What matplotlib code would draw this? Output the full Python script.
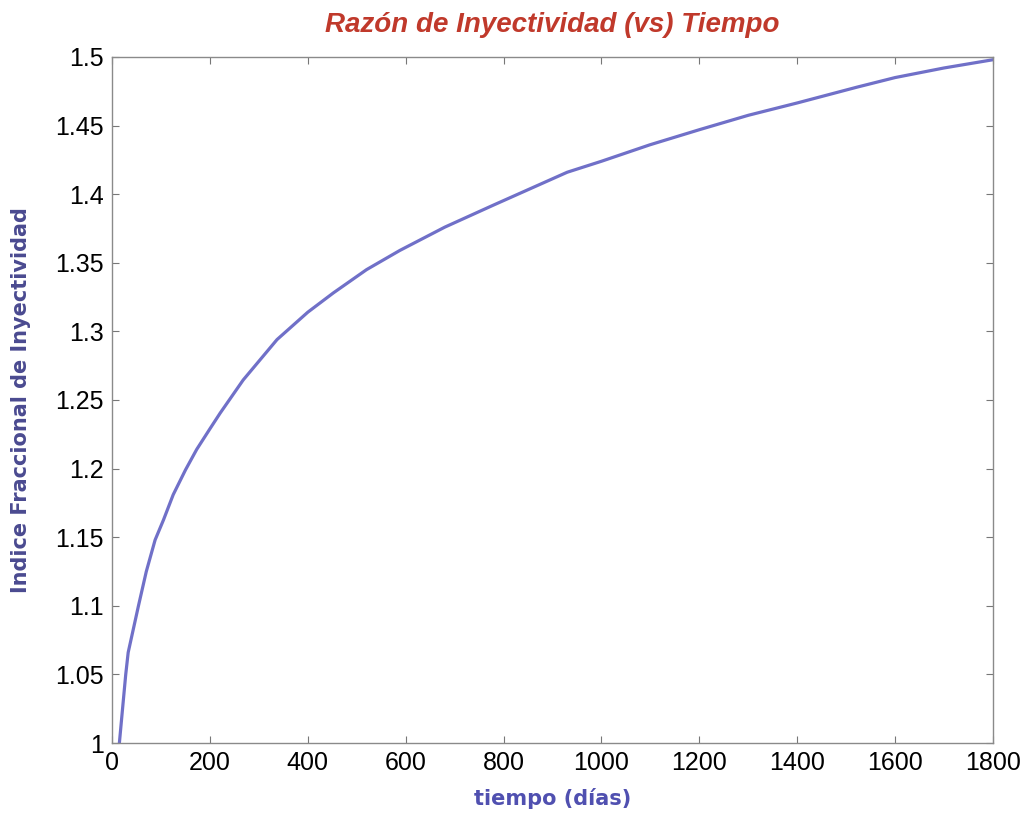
import matplotlib.pyplot as plt

# curve (days, fractional injectivity index)
dias = [15, 28, 33, 54, 70, 88, 105, 125, 150, 173, 200, 221, 268, 337,
        400, 452, 520, 588, 680, 779, 930, 1000, 1099, 1200, 1300, 1400,
        1522, 1600, 1700, 1800]
indice = [1.0, 1.05, 1.066, 1.1, 1.125, 1.148, 1.1625, 1.181, 1.199, 1.214,
          1.229, 1.2405, 1.2646, 1.294, 1.314, 1.328, 1.345, 1.359, 1.376,
          1.392, 1.416, 1.424, 1.436, 1.447, 1.4575, 1.4665, 1.478, 1.485,
          1.492, 1.498]

x_ticks = list(range(0, 1801, 200))
y_ticks = [1, 1.05, 1.1, 1.15, 1.2, 1.25, 1.3, 1.35, 1.4, 1.45, 1.5]
y_tick_labels = ["1", "1.05", "1.1", "1.15", "1.2", "1.25", "1.3", "1.35",
                 "1.4", "1.45", "1.5"]

plt.rcParams['font.family'] = ['Liberation Sans', 'DejaVu Sans']

fig = plt.figure(figsize=(10.25, 8.14), dpi=100)
ax = fig.add_axes([0.1093, 0.0872, 0.8595, 0.8428])

ax.plot(dias, indice, color='#7070c8', linewidth=2.3)

ax.set_xlim(0, 1800)
ax.set_ylim(1, 1.5)
ax.set_xticks(x_ticks)
ax.set_yticks(y_ticks)
ax.set_yticklabels(y_tick_labels)
ax.tick_params(direction='in', length=5, width=0.8, color='#777777',
               top=True, right=True, labelsize=18, pad=6)
for s in ax.spines.values():
    s.set_color('#8a8a8a')
    s.set_linewidth(1.0)

ax.set_title("Razón de Inyectividad (vs) Tiempo", color='#c0392b',
             fontsize=20, fontweight='bold', style='italic', pad=18)
ax.set_xlabel("tiempo (días)", color='#5050b0', fontsize=15,
              fontweight='bold', family='DejaVu Sans', labelpad=9)
ax.set_ylabel("Indice Fraccional de Inyectividad", color='#4a4a90',
              fontsize=15, fontweight='bold', family='DejaVu Sans',
              labelpad=17)

fig.savefig("out.png", dpi=100)
